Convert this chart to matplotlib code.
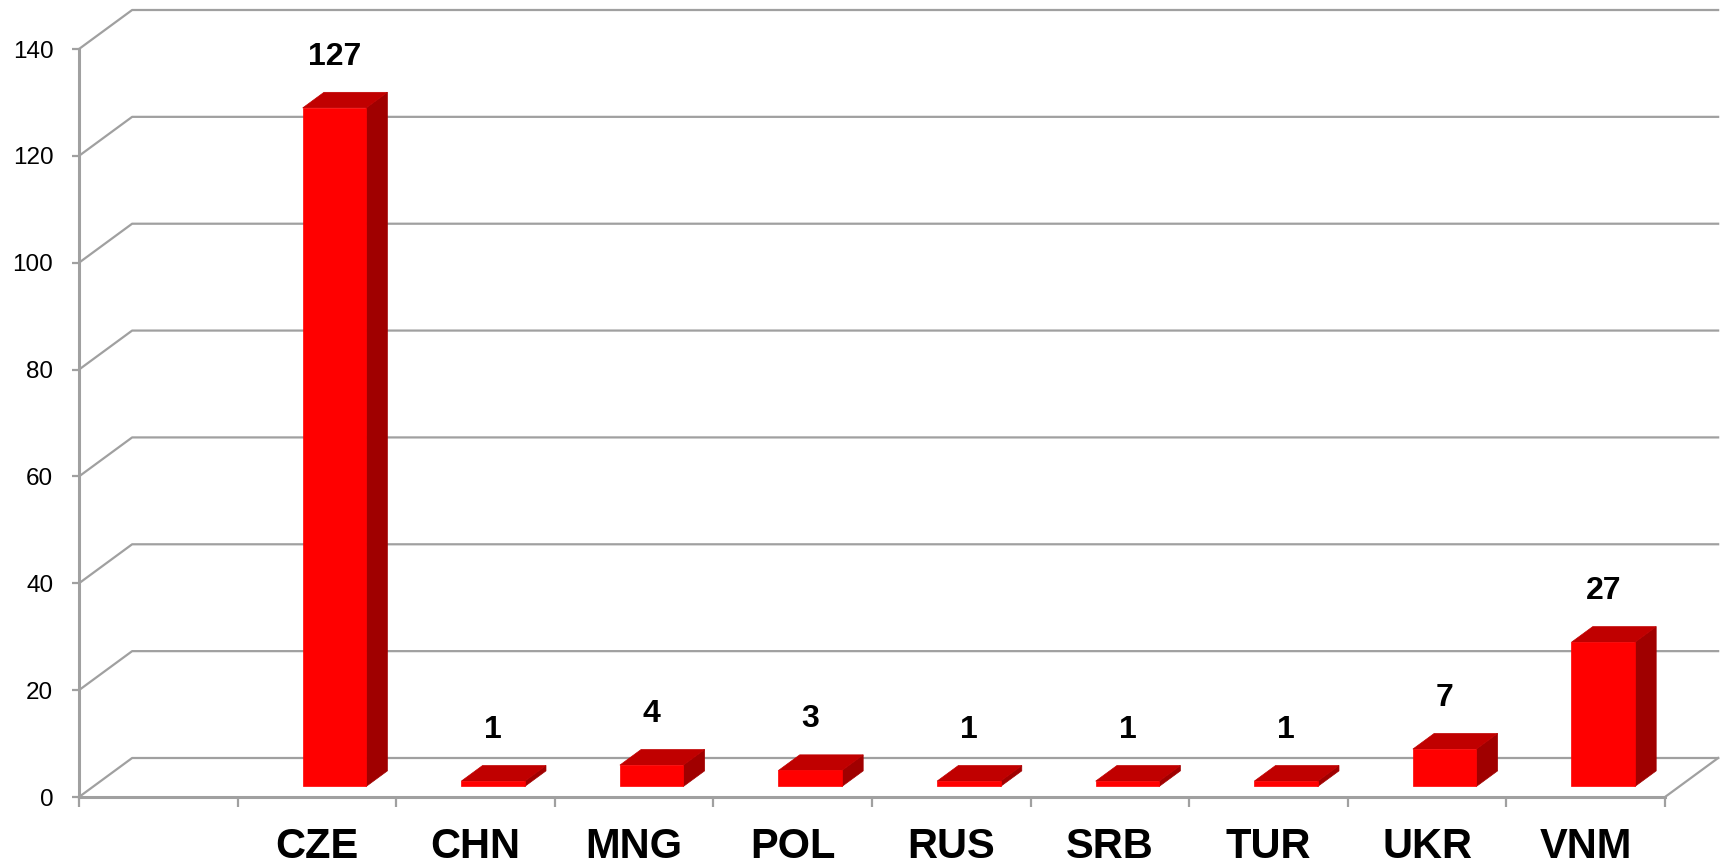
import matplotlib
matplotlib.use('Agg')
import matplotlib.pyplot as plt
from matplotlib.patches import Polygon
from matplotlib.transforms import offset_copy

plt.rcParams['font.family'] = ['Liberation Sans', 'DejaVu Sans']

categories = ['CZE', 'CHN', 'MNG', 'POL', 'RUS', 'SRB', 'TUR', 'UKR', 'VNM']
values = [127, 1, 4, 3, 1, 1, 1, 7, 27]
yticks = [0, 20, 40, 60, 80, 100, 120, 140]

# pseudo 3d settings (depth offset in data units)
n_slots = len(categories) + 1   # first slot is empty
depth_dx = 0.335
depth_dy = 7.3
bar_w = 0.4
front_z = 0.27
back_z = 0.67
grid_col = '#A0A0A0'
col_front = '#FF0000'
col_top = '#C00000'
col_side = '#A00000'

fig = plt.figure(figsize=(17.21, 8.65), dpi=100)
ax = fig.add_axes([79 / 1721, 68 / 865, 1586 / 1721, 748 / 865])
ax.set_xlim(0, n_slots)
ax.set_ylim(0, yticks[-1])
ax.patch.set_visible(False)

for s in ['top', 'right']:
    ax.spines[s].set_visible(False)
for s in ['left', 'bottom']:
    ax.spines[s].set_color(grid_col)
    ax.spines[s].set_linewidth(2.2)

# y ticks
ax.set_yticks(yticks)
ax.set_yticklabels([str(t) for t in yticks], fontsize=17.5)
ax.tick_params(axis='y', length=5, width=1.6, color=grid_col, pad=13.5)

# x ticks: marks on slot boundaries, labels drawn separately
ax.set_xticks(range(n_slots + 1))
ax.set_xticklabels([])
ax.tick_params(axis='x', length=7.2, width=1.6, color=grid_col)

# side wall + back wall gridlines
for t in yticks:
    ax.plot([0, depth_dx, n_slots + depth_dx], [t, t + depth_dy, t + depth_dy],
            color=grid_col, lw=1.6, clip_on=False, zorder=1)
# floor right edge
ax.plot([n_slots, n_slots + depth_dx], [0, depth_dy], color=grid_col, lw=1.6,
        clip_on=False, zorder=1)

# bars
for i, (cat, v) in enumerate(zip(categories, values)):
    slot = i + 1
    x0 = slot + 0.52 - bar_w / 2 + front_z * depth_dx
    x1 = x0 + bar_w
    y0 = front_z * depth_dy
    y1 = v + y0
    ddx = (back_z - front_z) * depth_dx
    ddy = (back_z - front_z) * depth_dy

    front = Polygon([(x0, y0), (x1, y0), (x1, y1), (x0, y1)], closed=True,
                    facecolor=col_front, edgecolor=col_front, lw=0.5,
                    clip_on=False, zorder=3)
    top = Polygon([(x0, y1), (x1, y1), (x1 + ddx, y1 + ddy), (x0 + ddx, y1 + ddy)],
                  closed=True, facecolor=col_top, edgecolor=col_top, lw=0.5,
                  clip_on=False, zorder=3)
    side = Polygon([(x1, y0), (x1 + ddx, y0 + ddy), (x1 + ddx, y1 + ddy), (x1, y1)],
                   closed=True, facecolor=col_side, edgecolor=col_side, lw=0.5,
                   clip_on=False, zorder=3)
    ax.add_patch(side)
    ax.add_patch(top)
    ax.add_patch(front)

    ax.annotate(str(v), xy=((x0 + x1) / 2, y1), xytext=(0, 36.7),
                textcoords='offset points', ha='center', va='center',
                fontsize=23, fontweight='bold', annotation_clip=False, zorder=4)

# category labels below the axis
lab_trans = offset_copy(ax.get_xaxis_transform(), fig=fig, y=-61 * 72 / 100,
                        units='points')
for i, cat in enumerate(categories):
    ax.text(i + 1.5, 0, cat, transform=lab_trans, ha='center', va='baseline',
            fontsize=30, fontweight='bold')

fig.savefig('out.png', dpi=100)
